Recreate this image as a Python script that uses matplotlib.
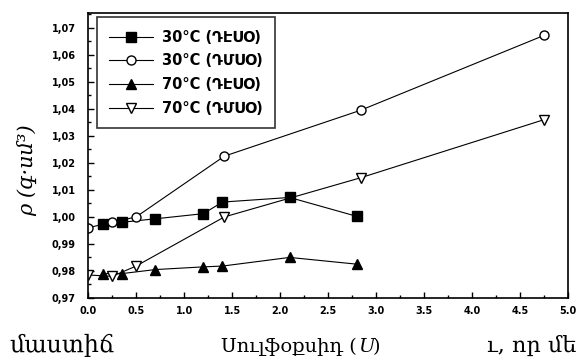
import matplotlib
matplotlib.use("Agg")
import matplotlib.pyplot as plt
from matplotlib.ticker import MultipleLocator, FuncFormatter

# sulfoxide concentration (U) vs density rho
x_deso = [0.15, 0.35, 0.7, 1.2, 1.4, 2.1, 2.8]
x_dmso = [0.0, 0.25, 0.5, 1.42, 2.84, 4.75]

rho_deso_30 = [0.9973, 0.998, 0.9993, 1.0012, 1.0055, 1.0072, 1.0002]
rho_dmso_30 = [0.996, 0.998, 1.0, 1.0225, 1.0395, 1.0672]
rho_deso_70 = [0.979, 0.979, 0.9805, 0.9815, 0.9818, 0.985, 0.9825]
rho_dmso_70 = [0.9785, 0.978, 0.9818, 1.0, 1.0145, 1.036]

labels = ["30°C (ԴԷՍՕ)", "30°C (ԴՄՍՕ)", "70°C (ԴԷՍՕ)", "70°C (ԴՄՍՕ)"]

x_ticks = [0.0, 0.5, 1.0, 1.5, 2.0, 2.5, 3.0, 3.5, 4.0, 4.5, 5.0]
y_ticks = [0.97, 0.98, 0.99, 1.00, 1.01, 1.02, 1.03, 1.04, 1.05, 1.06, 1.07]

serif = ["DejaVu Serif", "DejaVu Sans"]

fig = plt.figure(figsize=(5.76, 3.62), dpi=100)
ax = fig.add_axes([0.153, 0.177, 0.833, 0.787])

ms = 6.5
ax.plot(x_deso, rho_deso_30, "-", color="black", lw=0.8, marker="s", ms=ms,
        mfc="black", mec="black", label=labels[0])
ax.plot(x_dmso, rho_dmso_30, "-", color="black", lw=0.8, marker="o", ms=ms,
        mfc="white", mec="black", mew=1.0, label=labels[1])
ax.plot(x_deso, rho_deso_70, "-", color="black", lw=0.8, marker="^", ms=ms + 0.5,
        mfc="black", mec="black", label=labels[2])
ax.plot(x_dmso, rho_dmso_70, "-", color="black", lw=0.8, marker="v", ms=ms + 0.5,
        mfc="white", mec="black", mew=1.0, label=labels[3])

ax.set_xlim(0, 5)
ax.set_ylim(0.97, 1.0755)
ax.set_xticks(x_ticks)
ax.set_yticks(y_ticks)
ax.xaxis.set_minor_locator(MultipleLocator(0.25))
ax.yaxis.set_minor_locator(MultipleLocator(0.005))
ax.xaxis.set_major_formatter(FuncFormatter(lambda v, p: f"{v:.1f}"))
ax.yaxis.set_major_formatter(FuncFormatter(lambda v, p: f"{v:.2f}".replace(".", ",")))
ax.tick_params(which="both", direction="in", width=1.0)
ax.tick_params(which="major", length=4, labelsize=7)
ax.tick_params(axis="y", which="major", pad=9)
ax.tick_params(axis="x", which="major", pad=6)
ax.tick_params(which="minor", length=2)
for lab in ax.get_xticklabels() + ax.get_yticklabels():
    lab.set_fontweight("bold")
for s in ax.spines.values():
    s.set_linewidth(1.2)

leg = ax.legend(loc="upper left", bbox_to_anchor=(0.018, 0.985), frameon=True,
                fancybox=False, edgecolor="black", handlelength=3.0,
                borderpad=0.85, labelspacing=0.6, handletextpad=0.6,
                borderaxespad=0.0,
                prop={"family": "DejaVu Sans", "weight": "bold", "size": 10.5})
leg.get_frame().set_linewidth(1.2)

fig.text(0.047, 0.53, "ρ (գ·սմ³)", rotation=90, ha="center", va="center",
         family=serif, style="italic", fontsize=15)

base = 0.028
fig.text(0.017, base, "մաստիճ", family=serif, fontsize=17, ha="left", va="baseline")
fig.text(0.62, base, "Սուլֆօքսիդ (", family=serif, fontsize=14, ha="right", va="baseline")
fig.text(0.621, base, "U", family=serif, style="italic", fontsize=14, ha="left", va="baseline")
fig.text(0.647, base, ")", family=serif, fontsize=14, ha="left", va="baseline")
fig.text(0.845, base, "ւ, որ մե", family=serif, fontsize=16, ha="left", va="baseline")

fig.savefig("out.png", dpi=100)
